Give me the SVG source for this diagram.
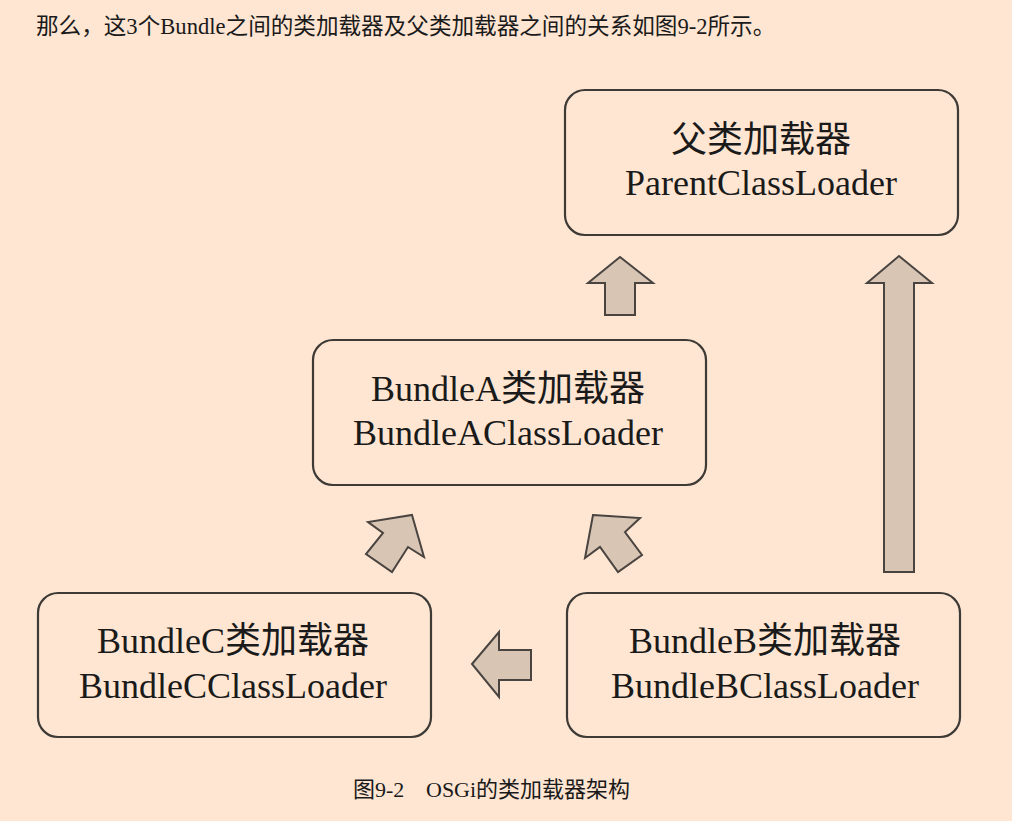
<svg xmlns="http://www.w3.org/2000/svg" width="1012" height="821" viewBox="0 0 1012 821">
<style>
.box{fill:#fee6d3;stroke:#3e3a36;stroke-width:2.2}
.arr{fill:#d8c5b4;stroke:#4a4440;stroke-width:2;stroke-linejoin:miter}
.t{font-family:"Liberation Serif","Noto Sans CJK SC",serif;fill:#1a1a1a;text-anchor:middle;font-size:36px}
.txt{font-family:"Liberation Serif","Noto Sans CJK SC",serif;fill:#1a1a1a}
</style>
<rect x="0" y="0" width="1012" height="821" fill="#fee6d3"/>
<text class="txt" x="36" y="34" font-size="22.6">那么，这3个Bundle之间的类加载器及父类加载器之间的关系如图9-2所示。</text>

<g id="connectors">
<polygon class="arr" points="620,257 653,283 635,283 635,315 605,315 605,283 588,283"/>
<polygon class="arr" points="899,256 932,283 914,283 914,572 884,572 884,283 867,283"/>
<polygon class="arr" points="412,515 424,557 408,547 392,572 366,554 383,533 368,522"/>
<polygon class="arr" points="593,515 640,518 625,532 642,555 618,572 600,547 585,558"/>
<polygon class="arr" points="472,664 499,632 499,650 531,650 531,680 499,680 499,697"/>
</g>

<g id="parent">
<rect class="box" x="565" y="90" width="393" height="145" rx="20"/>
<text class="t" x="761" y="152">父类加载器</text>
<text class="t" x="761" y="195">ParentClassLoader</text>
</g>

<g id="bundleA">
<rect class="box" x="313" y="340" width="393" height="145" rx="20"/>
<text class="t" x="508" y="401">BundleA类加载器</text>
<text class="t" x="508" y="445">BundleAClassLoader</text>
</g>

<g id="bundleC">
<rect class="box" x="38" y="593" width="393" height="144" rx="20"/>
<text class="t" x="233" y="653">BundleC类加载器</text>
<text class="t" x="233" y="698">BundleCClassLoader</text>
</g>

<g id="bundleB">
<rect class="box" x="567" y="593" width="393" height="144" rx="20"/>
<text class="t" x="765" y="653">BundleB类加载器</text>
<text class="t" x="765" y="698">BundleBClassLoader</text>
</g>

<text class="txt" x="353" y="797" font-size="22">图9-2<tspan x="426">OSGi的类加载器架构</tspan></text>
</svg>
